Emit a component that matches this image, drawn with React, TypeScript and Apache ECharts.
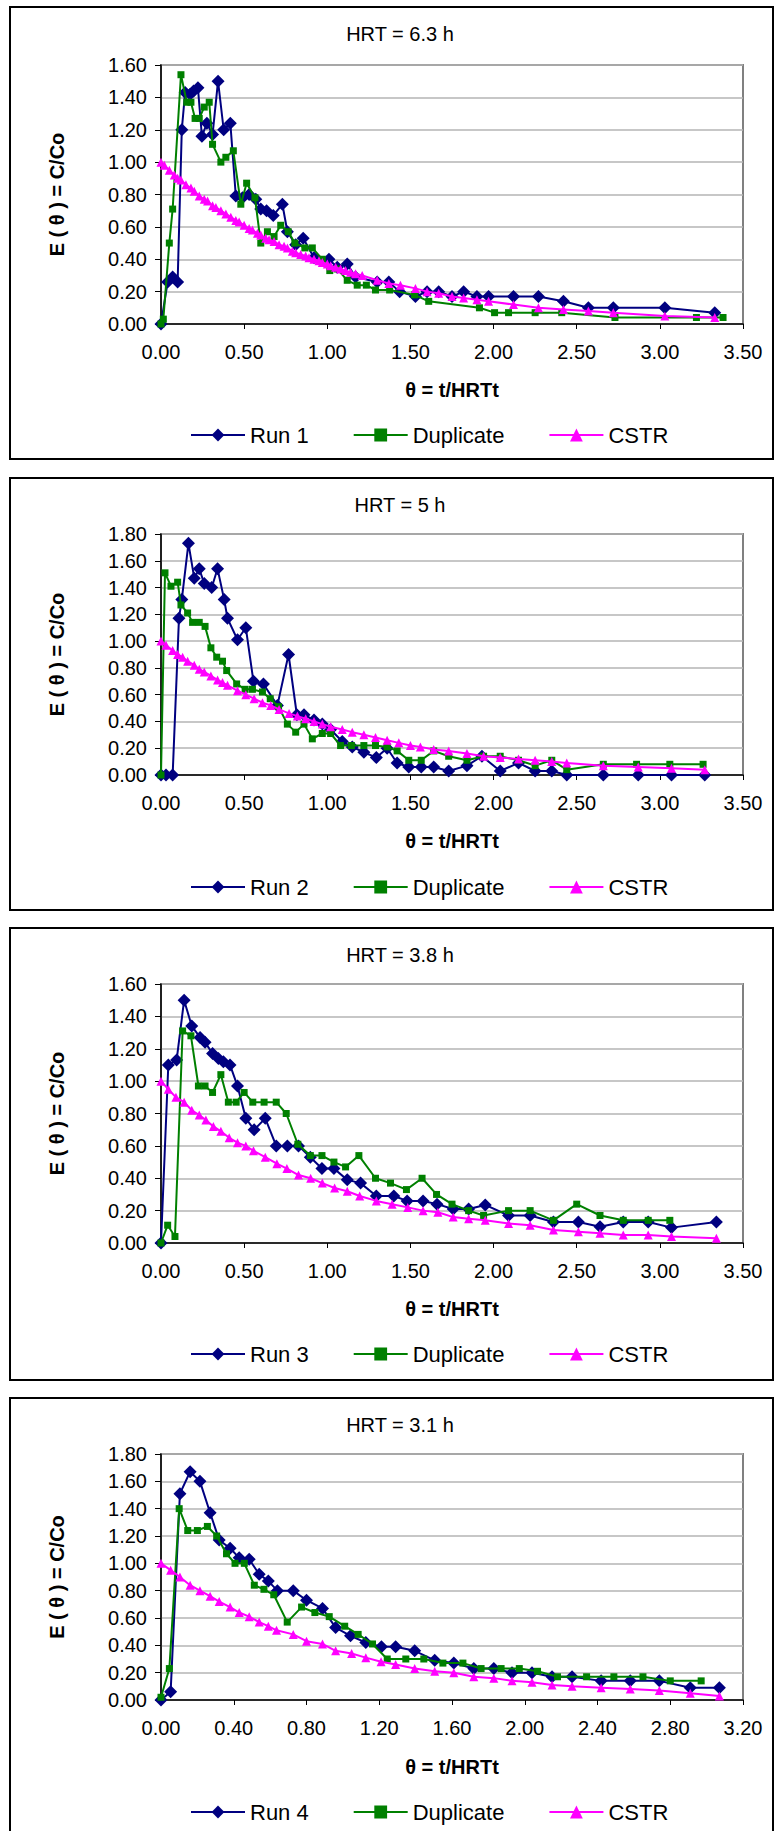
import React, { useEffect, useRef } from "react";
import * as echarts from "echarts";

const FONT = 'Arial, "Liberation Sans", sans-serif';

// ---------- Panel 1 : HRT = 6.3 h ----------
const run1X = [0.0, 0.04, 0.07, 0.1, 0.125, 0.145, 0.175, 0.196, 0.222, 0.246, 0.276, 0.31, 0.343, 0.377, 0.417, 0.45, 0.49, 0.53, 0.57, 0.6, 0.635, 0.675, 0.73, 0.76, 0.81, 0.855, 0.92, 1.01, 1.06, 1.12, 1.17, 1.3, 1.37, 1.435, 1.53, 1.6, 1.67, 1.75, 1.82, 1.9, 1.97, 2.12, 2.27, 2.42, 2.57, 2.72, 3.03, 3.33];
const run1Y = [0.0, 0.26, 0.29, 0.26, 1.2, 1.43, 1.42, 1.44, 1.46, 1.16, 1.24, 1.17, 1.5, 1.2, 1.24, 0.79, 0.78, 0.8, 0.77, 0.71, 0.7, 0.67, 0.74, 0.57, 0.49, 0.53, 0.41, 0.4, 0.35, 0.37, 0.29, 0.26, 0.26, 0.2, 0.17, 0.2, 0.2, 0.17, 0.2, 0.17, 0.17, 0.17, 0.17, 0.14, 0.1, 0.1, 0.1, 0.07];
const dup1X = [0.0, 0.014, 0.05, 0.07, 0.12, 0.155, 0.18, 0.205, 0.23, 0.26, 0.29, 0.31, 0.36, 0.39, 0.435, 0.48, 0.515, 0.565, 0.6, 0.64, 0.68, 0.72, 0.765, 0.805, 0.865, 0.91, 0.97, 1.015, 1.06, 1.12, 1.18, 1.235, 1.29, 1.375, 1.525, 1.61, 1.915, 2.006, 2.09, 2.25, 2.41, 2.73, 3.22, 3.38];
const dup1Y = [0.0, 0.03, 0.5, 0.71, 1.54, 1.37, 1.37, 1.27, 1.27, 1.34, 1.37, 1.11, 1.0, 1.03, 1.07, 0.74, 0.87, 0.78, 0.5, 0.57, 0.54, 0.61, 0.57, 0.5, 0.47, 0.47, 0.4, 0.33, 0.34, 0.27, 0.24, 0.24, 0.21, 0.21, 0.18, 0.14, 0.1, 0.07, 0.07, 0.07, 0.07, 0.04, 0.04, 0.04];
const cstr1X = [0.0, 0.02, 0.05, 0.08, 0.1, 0.12, 0.15, 0.18, 0.2, 0.23, 0.26, 0.28, 0.31, 0.33, 0.36, 0.39, 0.42, 0.45, 0.47, 0.5, 0.53, 0.55, 0.58, 0.6, 0.63, 0.65, 0.68, 0.71, 0.74, 0.76, 0.79, 0.81, 0.84, 0.87, 0.89, 0.92, 0.95, 0.97, 1.0, 1.02, 1.05, 1.08, 1.11, 1.14, 1.17, 1.21, 1.3, 1.37, 1.44, 1.53, 1.6, 1.67, 1.75, 1.82, 1.9, 1.97, 2.12, 2.27, 2.42, 2.57, 2.72, 3.03, 3.33];
const cstr1Y = [1.0, 0.98, 0.95, 0.92, 0.9, 0.89, 0.86, 0.84, 0.82, 0.79, 0.77, 0.76, 0.73, 0.72, 0.7, 0.68, 0.66, 0.64, 0.63, 0.61, 0.59, 0.58, 0.56, 0.55, 0.53, 0.52, 0.51, 0.49, 0.48, 0.47, 0.45, 0.44, 0.43, 0.42, 0.41, 0.4, 0.39, 0.38, 0.37, 0.36, 0.35, 0.34, 0.33, 0.32, 0.31, 0.3, 0.27, 0.25, 0.24, 0.22, 0.2, 0.19, 0.17, 0.16, 0.15, 0.14, 0.12, 0.1, 0.09, 0.08, 0.07, 0.05, 0.04];

// ---------- Panel 2 : HRT = 5 h ----------
const run2X = [0.0, 0.03, 0.07, 0.108, 0.125, 0.165, 0.2, 0.23, 0.26, 0.305, 0.34, 0.38, 0.4, 0.46, 0.51, 0.556, 0.616, 0.7, 0.767, 0.817, 0.86, 0.92, 0.97, 1.02, 1.09, 1.15, 1.22, 1.295, 1.36, 1.42, 1.49, 1.565, 1.64, 1.73, 1.84, 1.93, 2.04, 2.15, 2.25, 2.35, 2.44, 2.66, 2.87, 3.07, 3.27];
const run2Y = [0.0, 0.0, 0.0, 1.17, 1.31, 1.73, 1.47, 1.54, 1.43, 1.4, 1.54, 1.31, 1.17, 1.01, 1.1, 0.7, 0.68, 0.52, 0.9, 0.45, 0.45, 0.41, 0.38, 0.34, 0.25, 0.21, 0.17, 0.13, 0.2, 0.09, 0.06, 0.06, 0.06, 0.03, 0.07, 0.14, 0.03, 0.09, 0.03, 0.03, 0.0, 0.0, 0.0, 0.0, 0.0];
const dup2X = [0.0, 0.024, 0.06, 0.1, 0.12, 0.16, 0.19, 0.23, 0.265, 0.3, 0.335, 0.37, 0.395, 0.455, 0.506, 0.55, 0.61, 0.657, 0.707, 0.76, 0.81, 0.86, 0.91, 0.97, 1.02, 1.08, 1.145, 1.22, 1.29, 1.36, 1.42, 1.49, 1.565, 1.64, 1.73, 1.84, 1.94, 2.04, 2.15, 2.25, 2.35, 2.44, 2.66, 2.86, 3.06, 3.26];
const dup2Y = [0.0, 1.51, 1.41, 1.44, 1.27, 1.21, 1.14, 1.14, 1.11, 0.95, 0.88, 0.85, 0.78, 0.68, 0.64, 0.64, 0.62, 0.57, 0.51, 0.38, 0.32, 0.38, 0.27, 0.31, 0.31, 0.22, 0.22, 0.22, 0.22, 0.21, 0.18, 0.11, 0.11, 0.18, 0.14, 0.11, 0.14, 0.14, 0.11, 0.07, 0.11, 0.04, 0.08, 0.08, 0.08, 0.08];
const cstr2X = [0.0, 0.03, 0.07, 0.1, 0.13, 0.16, 0.2, 0.23, 0.26, 0.3, 0.34, 0.37, 0.4, 0.46, 0.51, 0.56, 0.61, 0.66, 0.71, 0.77, 0.82, 0.87, 0.92, 0.97, 1.02, 1.09, 1.15, 1.22, 1.29, 1.36, 1.43, 1.5, 1.56, 1.64, 1.73, 1.84, 1.94, 2.04, 2.15, 2.25, 2.35, 2.44, 2.66, 2.87, 3.07, 3.27];
const cstr2Y = [1.0, 0.97, 0.93, 0.9, 0.88, 0.85, 0.82, 0.79, 0.77, 0.74, 0.71, 0.69, 0.67, 0.63, 0.6, 0.57, 0.54, 0.52, 0.49, 0.46, 0.44, 0.42, 0.4, 0.38, 0.36, 0.34, 0.32, 0.3, 0.28, 0.26, 0.24, 0.22, 0.21, 0.19, 0.18, 0.16, 0.14, 0.13, 0.12, 0.11, 0.1, 0.09, 0.07, 0.06, 0.05, 0.04];

// ---------- Panel 3 : HRT = 3.8 h ----------
const run3X = [0.0, 0.044, 0.094, 0.139, 0.185, 0.235, 0.265, 0.31, 0.345, 0.375, 0.415, 0.46, 0.51, 0.56, 0.627, 0.693, 0.76, 0.827, 0.898, 0.968, 1.04, 1.12, 1.2, 1.295, 1.4, 1.48, 1.576, 1.66, 1.757, 1.85, 1.95, 2.09, 2.22, 2.36, 2.51, 2.64, 2.78, 2.93, 3.07, 3.34];
const run3Y = [0.0, 1.1, 1.13, 1.5, 1.34, 1.27, 1.24, 1.17, 1.14, 1.12, 1.1, 0.97, 0.77, 0.7, 0.77, 0.6, 0.6, 0.6, 0.53, 0.46, 0.46, 0.39, 0.37, 0.29, 0.29, 0.26, 0.26, 0.24, 0.21, 0.21, 0.235, 0.17, 0.17, 0.13, 0.13, 0.1, 0.13, 0.13, 0.095, 0.13];
const dup3X = [0.0, 0.04, 0.084, 0.13, 0.18, 0.225, 0.265, 0.31, 0.36, 0.405, 0.452, 0.5, 0.552, 0.62, 0.693, 0.753, 0.823, 0.898, 0.968, 1.04, 1.11, 1.19, 1.29, 1.38, 1.476, 1.57, 1.657, 1.75, 1.85, 1.94, 2.09, 2.22, 2.36, 2.5, 2.64, 2.78, 2.93, 3.06];
const dup3Y = [0.0, 0.11, 0.04, 1.31, 1.28, 0.97, 0.97, 0.93, 1.04, 0.87, 0.87, 0.93, 0.87, 0.87, 0.87, 0.8, 0.61, 0.54, 0.54, 0.5, 0.47, 0.54, 0.4, 0.37, 0.33, 0.4, 0.3, 0.24, 0.2, 0.17, 0.2, 0.2, 0.14, 0.24, 0.17, 0.14, 0.14, 0.14];
const cstr3X = [0.0, 0.044, 0.09, 0.139, 0.185, 0.23, 0.27, 0.315, 0.36, 0.41, 0.46, 0.51, 0.556, 0.627, 0.697, 0.757, 0.827, 0.9, 0.97, 1.044, 1.12, 1.195, 1.295, 1.39, 1.484, 1.576, 1.665, 1.757, 1.85, 1.95, 2.09, 2.22, 2.36, 2.51, 2.64, 2.78, 2.93, 3.07, 3.34];
const cstr3Y = [1.0, 0.95, 0.9, 0.87, 0.82, 0.79, 0.76, 0.72, 0.69, 0.65, 0.62, 0.6, 0.57, 0.53, 0.49, 0.46, 0.42, 0.4, 0.37, 0.34, 0.32, 0.29, 0.26, 0.24, 0.22, 0.2, 0.19, 0.16, 0.15, 0.14, 0.12, 0.11, 0.08, 0.07, 0.06, 0.05, 0.05, 0.04, 0.03];

// ---------- Panel 4 : HRT = 3.1 h ----------
const run4X = [0.0, 0.053, 0.104, 0.16, 0.214, 0.27, 0.32, 0.38, 0.43, 0.485, 0.54, 0.59, 0.64, 0.727, 0.8, 0.888, 0.96, 1.042, 1.126, 1.212, 1.29, 1.395, 1.505, 1.61, 1.72, 1.83, 1.93, 2.04, 2.15, 2.26, 2.42, 2.58, 2.74, 2.91, 3.07];
const run4Y = [0.0, 0.06, 1.51, 1.67, 1.6, 1.37, 1.17, 1.11, 1.04, 1.03, 0.92, 0.87, 0.8, 0.8, 0.73, 0.67, 0.53, 0.47, 0.42, 0.39, 0.39, 0.36, 0.29, 0.27, 0.23, 0.23, 0.2, 0.2, 0.17, 0.17, 0.14, 0.14, 0.14, 0.09, 0.09];
const dup4X = [0.0, 0.046, 0.1, 0.147, 0.2, 0.255, 0.306, 0.36, 0.407, 0.458, 0.513, 0.566, 0.62, 0.694, 0.773, 0.846, 0.925, 1.01, 1.084, 1.163, 1.244, 1.346, 1.445, 1.55, 1.66, 1.76, 1.87, 1.97, 2.07, 2.18, 2.34, 2.49, 2.65, 2.8, 2.97];
const dup4Y = [0.02, 0.23, 1.4, 1.24, 1.24, 1.27, 1.2, 1.07, 1.0, 1.0, 0.84, 0.81, 0.77, 0.57, 0.68, 0.64, 0.61, 0.54, 0.48, 0.41, 0.3, 0.3, 0.3, 0.27, 0.27, 0.23, 0.23, 0.23, 0.21, 0.17, 0.17, 0.17, 0.17, 0.14, 0.14];
const cstr4X = [0.0, 0.053, 0.104, 0.16, 0.214, 0.27, 0.32, 0.38, 0.43, 0.485, 0.54, 0.59, 0.635, 0.727, 0.8, 0.888, 0.96, 1.048, 1.126, 1.21, 1.29, 1.395, 1.505, 1.61, 1.72, 1.83, 1.93, 2.04, 2.15, 2.26, 2.42, 2.58, 2.74, 2.91, 3.07];
const cstr4Y = [1.0, 0.95, 0.9, 0.84, 0.8, 0.76, 0.72, 0.68, 0.64, 0.61, 0.57, 0.54, 0.51, 0.48, 0.43, 0.41, 0.36, 0.34, 0.31, 0.28, 0.26, 0.23, 0.21, 0.2, 0.17, 0.16, 0.14, 0.13, 0.11, 0.1, 0.09, 0.08, 0.07, 0.05, 0.03];

const titles = ["HRT = 6.3 h", "HRT = 5 h", "HRT = 3.8 h", "HRT = 3.1 h"];
const runNames = ["Run 1", "Run 2", "Run 3", "Run 4"];
const xMaxes = [3.5, 3.5, 3.5, 3.2];
const xIntervals = [0.5, 0.5, 0.5, 0.4];
const yMaxes = [1.6, 1.8, 1.6, 1.8];

const zip = (xs: number[], ys: number[]) => xs.map((x, i) => [x, ys[i]]);

const runData = [zip(run1X, run1Y), zip(run2X, run2Y), zip(run3X, run3Y), zip(run4X, run4Y)];
const dupData = [zip(dup1X, dup1Y), zip(dup2X, dup2Y), zip(dup3X, dup3Y), zip(dup4X, dup4Y)];
const cstrData = [zip(cstr1X, cstr1Y), zip(cstr2X, cstr2Y), zip(cstr3X, cstr3Y), zip(cstr4X, cstr4Y)];

// layout (page pixels)
const layout = [
  { boxTop: 7, boxBottom: 459, gridTop: 65, gridH: 259, titleY: 34, xNameY: 390, legendY: 435 },
  { boxTop: 478, boxBottom: 910, gridTop: 534, gridH: 241, titleY: 505, xNameY: 841, legendY: 887 },
  { boxTop: 928, boxBottom: 1380, gridTop: 984, gridH: 259, titleY: 955, xNameY: 1309, legendY: 1354 },
  { boxTop: 1398, boxBottom: 1850, gridTop: 1454, gridH: 246, titleY: 1425, xNameY: 1767, legendY: 1812 },
];
const GRID_LEFT = 161;
const GRID_W = 582;

export default function App() {
  const ref = useRef<HTMLDivElement>(null);
  useEffect(() => {
    if (!ref.current) return;
    const chart = echarts.init(ref.current, null, { renderer: "svg" });
    const grid: any[] = [];
    const xAxis: any[] = [];
    const yAxis: any[] = [];
    const series: any[] = [];
    const legend: any[] = [];
    const graphic: any[] = [];
    layout.forEach((L, i) => {
      grid.push({
        left: GRID_LEFT, top: L.gridTop, width: GRID_W, height: L.gridH,
        show: true, borderColor: "#808080", borderWidth: 2, backgroundColor: "#fff",
      });
      xAxis.push({
        type: "value", gridIndex: i, min: 0, max: xMaxes[i], interval: xIntervals[i],
        axisLine: { show: true, onZero: false, lineStyle: { color: "#000", width: 1.5 } },
        axisTick: { show: true, length: 5, lineStyle: { color: "#000" } },
        splitLine: { show: false },
        axisLabel: { fontSize: 20, color: "#000", margin: 18, fontFamily: FONT, formatter: (v: number) => v.toFixed(2) },
      });
      yAxis.push({
        type: "value", gridIndex: i, min: 0, max: yMaxes[i], interval: 0.2,
        axisLine: { show: true, lineStyle: { color: "#000", width: 1.5 } },
        axisTick: { show: true, length: 6, lineStyle: { color: "#000" } },
        splitLine: { show: true, lineStyle: { color: "#b4b4b4", width: 1.5 } },
        axisLabel: { fontSize: 20, color: "#000", margin: 14, fontFamily: FONT, formatter: (v: number) => v.toFixed(2) },
      });
      series.push({
        type: "line", name: runNames[i], xAxisIndex: i, yAxisIndex: i, data: runData[i],
        symbol: "diamond", symbolSize: 13, lineStyle: { color: "#000080", width: 2 },
        itemStyle: { color: "#000080" }, z: 2,
      });
      series.push({
        type: "line", name: "Duplicate", xAxisIndex: i, yAxisIndex: i, data: dupData[i],
        symbol: "rect", symbolSize: 7, lineStyle: { color: "#008000", width: 2 },
        itemStyle: { color: "#008000" }, z: 3,
      });
      series.push({
        type: "line", name: "CSTR", xAxisIndex: i, yAxisIndex: i, data: cstrData[i],
        symbol: "triangle", symbolSize: 9, lineStyle: { color: "#ff00ff", width: 2 },
        itemStyle: { color: "#ff00ff" }, z: 4,
      });
      legend.push({
        data: [runNames[i], "Duplicate", "CSTR"], left: 190, top: L.legendY - 11,
        orient: "horizontal", itemWidth: 54, itemHeight: 16, itemGap: 44, padding: 0,
        selectedMode: false,
        textStyle: { fontSize: 22, fontFamily: FONT, color: "#000", lineHeight: 22 },
      });
      graphic.push({
        type: "rect", shape: { x: 10, y: L.boxTop, width: 763, height: L.boxBottom - L.boxTop },
        style: { fill: "none", stroke: "#000", lineWidth: 2 }, z: 100,
      });
      graphic.push({
        type: "text", x: 400, y: L.titleY,
        style: { text: titles[i], font: `20px ${FONT}`, fill: "#000", align: "center", verticalAlign: "middle" },
      });
      graphic.push({
        type: "text", x: GRID_LEFT + GRID_W / 2, y: L.xNameY,
        style: { text: "θ = t/HRTt", font: `bold 20px ${FONT}`, fill: "#000", align: "center", verticalAlign: "middle" },
      });
      graphic.push({
        type: "text", x: 57, y: L.gridTop + L.gridH / 2, rotation: Math.PI / 2,
        style: { text: "E ( θ ) = C/Co", font: `bold 20px ${FONT}`, fill: "#000", align: "center", verticalAlign: "middle" },
      });
    });
    chart.setOption({
      animation: false,
      backgroundColor: "#fff",
      grid, xAxis, yAxis, series, legend, graphic,
    });
    return () => chart.dispose();
  }, []);
  return <div ref={ref} style={{ position: "absolute", left: 0, top: 0, width: 775, height: 1831 }} />;
}
